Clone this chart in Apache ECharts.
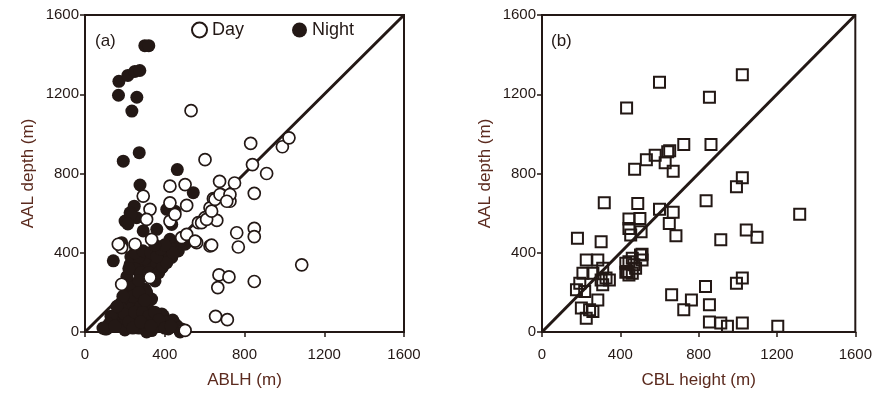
<!DOCTYPE html>
<html><head><meta charset="utf-8">
<script src="https://cdn.jsdelivr.net/npm/echarts@6/dist/echarts.min.js"></script>
<style>html,body{margin:0;padding:0;background:#fff}#c{width:875px;height:394px}</style>
</head><body><div id="c"></div>
<script>
var ticks = [0, 400, 800, 1200, 1600];
var dayPts = [[532,1117],[831,952],[990,935],[1023,980],[602,870],[840,845],[911,800],[675,760],[750,752],[682,694],[724,683],[644,673],[727,660],[849,700],
[661,563],[602,577],[569,552],[627,627],[761,501],[849,523],[849,481],[769,429],[627,434],[635,438],[560,451],[1087,339],[672,288],[722,278],[666,224],[849,255],[655,79],[714,62],[502,8],
[426,736],[502,744],[292,686],[426,652],[510,639],[326,619],[309,568],[426,560],[451,594],[334,468],[485,476],[184,426],[184,241],[510,493],[552,459],[585,552],[610,568],[635,610],[652,669],[677,694],[727,694],[711,660],[167,443],[251,443],[326,275]];
var nightPts = [[300,1445],[320,1445],[170,1265],[215,1295],[250,1315],[275,1320],[168,1195],[260,1185],[235,1115],[192,862],[272,905],[463,820],
[276,742],[543,703],[247,635],[226,602],[201,560],[259,577],[292,510],[360,518],[184,451],[251,438],[410,619],[451,610],[435,543],[426,468],[142,359],[230,590],[215,545],
[234,342],[267,308],[334,342],[385,325],[435,376],[468,409],[502,443],[301,292],[351,258],[226,340],[260,360],[290,350],[320,345],[360,340],[300,370],[250,320],[280,300],[320,300],[400,360],[420,400],[450,420],[480,460],[230,380],[270,380],
[251,241],[217,191],[201,157],[234,141],[301,216],[334,166],[318,116],[385,91],[451,40],[485,15],[100,15],[134,40],[167,57],[251,23],[334,7],[418,15],[184,91],[284,82],[309,200],[276,166],[226,116],[142,57],[109,15],[176,32],[309,0],[393,82],[460,32],[477,0],[343,57],[200,10],[260,60],[360,30],[440,60],[230,80],[280,130],[130,80],[120,40],[90,20],[150,30],[270,20],[300,40],[400,50],[470,20],
[210,200],[240,230],[270,260],[330,280],[370,300],[390,330],[410,350],[440,400],[180,120],[200,90],[220,50],[250,100],[290,100],[320,80],[350,100],[370,60],[400,20],[430,30],[240,180],[270,200],[190,180],[160,130],[240,20],[280,50],[330,30],[300,160],[210,280],[220,320],[250,400],[290,410],[330,400],[360,380],[380,420],[400,440],[350,440]];
var cblPts = [[600,1261],[1023,1298],[855,1185],[432,1130],[724,947],[863,947],[642,910],[652,915],[578,892],[533,870],[473,821],[629,854],[670,811],[1023,778],[993,733],[318,652],[489,649],[838,662],[600,620],[670,604],[650,548],[1316,594],[444,570],[500,573],[444,523],[506,506],[453,489],[684,486],[181,473],[302,455],[913,465],[1043,515],[1098,478],[511,392],[461,372],[428,347],[469,339],[428,302],[444,288],[226,364],[285,364],[209,297],[260,297],[310,322],[327,272],[302,263],[344,263],[310,238],[193,246],[176,213],[218,205],[285,162],[201,121],[243,112],[226,70],[260,104],[503,389],[511,364],[444,355],[436,305],[478,322],[461,297],[1023,272],[993,246],[835,230],[662,188],[763,162],[724,112],[855,137],[855,50],[913,45],[947,29],[1023,45],[1204,29]];
var oneToOne = [[0,0],[1600,1600]];

var INK = '#231815', NAME = '#5b2a1e', FONT = "'Liberation Sans', Arial, sans-serif";
function fmt(v){return String(v);}
function xAx(idx, name){return {gridIndex:idx,type:'value',min:ticks[0],max:ticks[ticks.length-1],interval:400,
  name:name,nameLocation:'middle',nameGap:40,nameTextStyle:{color:NAME,fontSize:17,fontFamily:FONT},
  axisLine:{show:true,lineStyle:{color:INK,width:2}},axisTick:{show:true,length:5,lineStyle:{color:INK,width:1.5}},
  axisLabel:{color:INK,fontSize:15,fontFamily:FONT,margin:15,formatter:fmt},splitLine:{show:false}};}
function yAx(idx, name){return {gridIndex:idx,type:'value',min:ticks[0],max:ticks[ticks.length-1],interval:400,
  name:name,nameLocation:'middle',nameGap:48,nameTextStyle:{color:NAME,fontSize:17,fontFamily:FONT},
  axisLine:{show:true,lineStyle:{color:INK,width:2}},axisTick:{show:true,length:5,lineStyle:{color:INK,width:1.5}},
  axisLabel:{color:INK,fontSize:15,fontFamily:FONT,margin:6,formatter:fmt},splitLine:{show:false}};}
var chart = echarts.init(document.getElementById('c'), null, {renderer:'canvas'});
chart.setOption({
  animation:false,
  grid:[{left:85,top:15,width:319,height:318,show:true,borderColor:INK,borderWidth:2,backgroundColor:'transparent'},
        {left:542,top:15,width:318,height:319,show:true,borderColor:INK,borderWidth:2,backgroundColor:'transparent'}],
  xAxis:[xAx(0,'ABLH (m)'), xAx(1,'CBL height (m)')],
  yAxis:[yAx(0,'AAL depth (m)'), yAx(1,'AAL depth (m)')],
  legend:{data:['Day','Night'],left:186,top:16,itemWidth:15,itemHeight:15,itemGap:48,
    textStyle:{color:INK,fontSize:18,fontFamily:FONT}},
  graphic:[{type:'text',left:95,top:33,style:{text:'(a)',fill:INK,font:"17px 'Liberation Sans', Arial"}},
           {type:'text',left:551,top:33,style:{text:'(b)',fill:INK,font:"17px 'Liberation Sans', Arial"}}],
  series:[
    {type:'line',xAxisIndex:0,yAxisIndex:0,data:oneToOne,symbol:'none',lineStyle:{color:INK,width:3},z:1,silent:true},
    {type:'line',xAxisIndex:1,yAxisIndex:1,data:oneToOne,symbol:'none',lineStyle:{color:INK,width:3},z:1,silent:true},
    {name:'Night',type:'scatter',xAxisIndex:0,yAxisIndex:0,data:nightPts,symbol:'circle',symbolSize:13,
      itemStyle:{color:INK,opacity:1},z:2},
    {name:'Day',type:'scatter',xAxisIndex:0,yAxisIndex:0,data:dayPts,symbol:'circle',symbolSize:12,
      itemStyle:{color:'#fff',borderColor:INK,borderWidth:1.7,opacity:1},z:3},
    {name:'CBL',type:'scatter',xAxisIndex:1,yAxisIndex:1,data:cblPts,symbol:'rect',symbolSize:11,
      itemStyle:{color:'rgba(255,255,255,0)',borderColor:INK,borderWidth:2,opacity:1},z:3}
  ]
});
</script></body></html>
